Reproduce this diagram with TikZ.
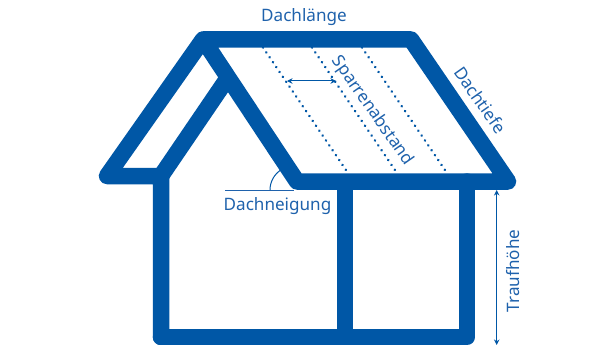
\documentclass[tikz,border=0pt]{standalone}
\usepackage{fontspec}
\setmainfont{Noto Sans}
\usetikzlibrary{arrows.meta}
\definecolor{hausblau}{HTML}{0057A6}
\definecolor{textblau}{HTML}{1F62AC}
\tikzset{
  x=1pt,y=-1pt,
  wand/.style={draw=hausblau,line width=16.5pt,line join=round,line cap=round},
  sparren/.style={draw=hausblau,line width=2.8pt,line cap=round,dash pattern=on 0.01pt off 5.9pt},
  mass/.style={draw=hausblau,line width=1pt,{Stealth[length=5.5pt,width=5.5pt]}-{Stealth[length=5.5pt,width=5.5pt]}},
  beschriftung/.style={text=textblau,font=\fontsize{17.1}{19}\selectfont,inner sep=0pt},
}
\begin{document}
\begin{tikzpicture}
\useasboundingbox (0,0) rectangle (616,345);
\fill[white] (0,0) rectangle (616,345);
\coordinate (T1) at (203,39.5);
\coordinate (T2) at (411,39.5);
\coordinate (R) at (508,181.5);
\coordinate (F) at (297,181.5);
\coordinate (L) at (107,176);
\coordinate (J) at (161,176);
\coordinate (G) at (227,79);
\coordinate (BL) at (161,337);
\coordinate (BR) at (467,337);
\coordinate (ML) at (345,181.5);
\coordinate (MB) at (345,337);
\coordinate (RT) at (467,181.5);
% dotted rafters
\coordinate (S1a) at (263,47.5); \coordinate (S1b) at (348,173);
\coordinate (S2a) at (312,47.5); \coordinate (S2b) at (397,173);
\coordinate (S3a) at (362,47.5); \coordinate (S3b) at (447,173);
\draw[sparren] (S1a) -- (S1b);
\draw[sparren] (S2a) -- (S2b);
\draw[sparren] (S3a) -- (S3b);
% thin dimension helpers
\coordinate (H0) at (225,190);
\coordinate (H1) at (294,190);
\draw[draw=textblau,line width=1pt] (H0) -- (H1);
\draw[draw=hausblau,line width=1pt] (270,190) arc[start angle=180,end angle=239,radius=24];
% house
\draw[wand,line cap=butt] (J) -- (G);
\draw[wand] (BL) -- (J) -- (L) -- (T1) -- (T2) -- (R) -- (F) -- (T1);
\draw[wand] (BL) -- (BR) -- (RT);
\draw[wand,line cap=butt] (ML) -- (MB);
% dimensions
\coordinate (A1) at (287,81);
\coordinate (A2) at (336,81);
\draw[mass] (A1) -- (A2);
\coordinate (V1) at (496.7,190);
\coordinate (V2) at (496.7,345);
\draw[mass] (V1) -- (V2);
% labels
\node[beschriftung] (dl) at (304,17) {Dachlänge};
\node[beschriftung,rotate=-55] (dt) at (480.5,100) {Dachtiefe};
\node[beschriftung,rotate=-55] (sa) at (372.5,111) {Sparrenabstand};
\node[beschriftung] (dn) at (277.5,206) {Dachneigung};
\node[beschriftung,rotate=90] (th) at (513,271) {Traufhöhe};
\end{tikzpicture}
\end{document}
